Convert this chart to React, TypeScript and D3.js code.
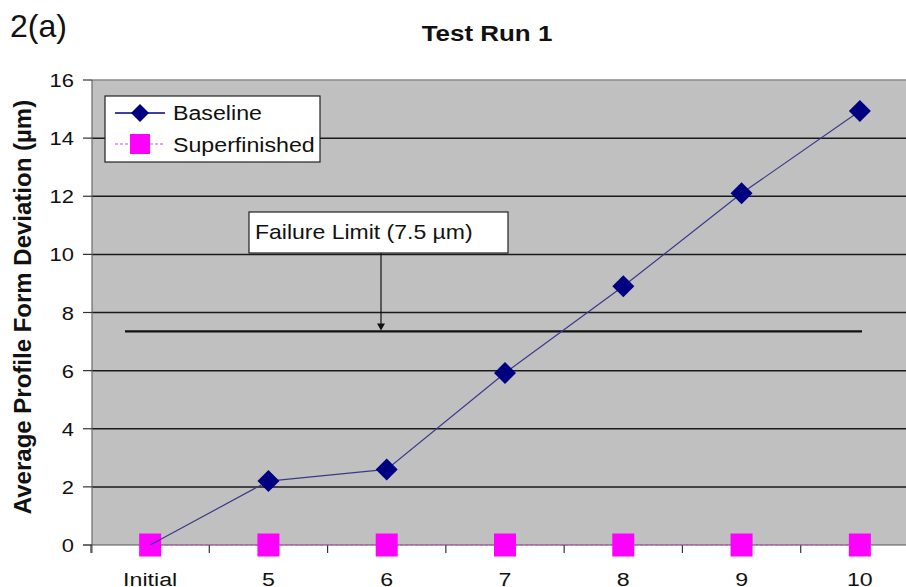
import React from "react";
import * as d3 from "d3";

const categories = ["Initial", "5", "6", "7", "8", "9", "10"];
const baseline = [0, 2.2, 2.6, 5.92, 8.9, 12.1, 14.93];
const superfinished = [0, 0, 0, 0, 0, 0, 0];
const yTicks = [0, 2, 4, 6, 8, 10, 12, 14, 16];
const failureValue = 7.35;
const failureLabel = "Failure Limit (7.5 µm)";
const seriesNames = ["Baseline", "Superfinished"];

const W = 906;
const H = 587;
const FONT = "'Liberation Sans', Arial, sans-serif";
const SX = 1.2;

function T(props: {
  x: number;
  y: number;
  size: number;
  anchor?: string;
  bold?: boolean;
  sx?: number;
  children: React.ReactNode;
}) {
  const { x, y, size, anchor = "start", bold = false, sx = SX, children } = props;
  return (
    <text
      transform={`translate(${x},${y}) scale(${sx},1)`}
      fontSize={size}
      fontWeight={bold ? "bold" : "normal"}
      textAnchor={anchor}
      fill="#111"
    >
      {children}
    </text>
  );
}

export default function App() {
  const x = d3.scaleBand<string>().domain(categories).range([91, 919]).padding(0);
  const bw = x.bandwidth();
  const cx = (c: string) => (x(c) as number) + bw / 2;
  const y = d3.scaleLinear().domain([0, 16]).range([545, 80]);

  const line = d3
    .line<number>()
    .x((_, i) => cx(categories[i]))
    .y((d) => y(d));

  const plotL = 92;
  const plotR = W;
  const diamond = (px: number, py: number, r: number) =>
    `M${px},${py - r}L${px + r},${py}L${px},${py + r}L${px - r},${py}Z`;

  const fy = y(failureValue);

  return (
    <svg
      width={W}
      height={H}
      style={{ position: "absolute", left: 0, top: 0, display: "block", background: "#fff" }}
      fontFamily={FONT}
    >
      <rect x={0} y={0} width={W} height={H} fill="#fff" />
      {/* panel label */}
      <T x={10} y={37} size={32} sx={1}>2(a)</T>
      {/* title */}
      <T x={487} y={41} size={22} bold anchor="middle" sx={1.18}>
        Test Run 1
      </T>
      {/* plot area */}
      <rect x={plotL} y={y(16)} width={plotR - plotL} height={y(0) - y(16)} fill="#c0c0c0" />
      <line x1={plotL} x2={plotR} y1={y(16)} y2={y(16)} stroke="#8a8a8a" strokeWidth={1.5} />
      {yTicks
        .filter((t) => t > 0 && t < 16)
        .map((t) => (
          <line key={"g" + t} x1={plotL} x2={plotR} y1={y(t)} y2={y(t)} stroke="#1a1a1a" strokeWidth={1.5} />
        ))}
      {/* y axis */}
      <line x1={plotL} x2={plotL} y1={y(16)} y2={y(0) + 8} stroke="#6a6a6a" strokeWidth={1.2} />
      {yTicks.map((t) => (
        <g key={"yt" + t}>
          <line x1={83} x2={plotL} y1={y(t)} y2={y(t)} stroke="#333" strokeWidth={1.2} />
          <T x={74} y={y(t) + 7} size={18} anchor="end" sx={1.22}>
            {t}
          </T>
        </g>
      ))}
      {/* x axis */}
      <line x1={83} x2={plotR} y1={y(0)} y2={y(0)} stroke="#555" strokeWidth={1.2} />
      {categories.map((c) => (
        <line key={"xt" + c} x1={x(c) as number} x2={x(c) as number} y1={y(0)} y2={y(0) + 8} stroke="#333" strokeWidth={1.2} />
      ))}
      {categories.map((c) => (
        <T key={"xl" + c} x={cx(c)} y={586} size={19} anchor="middle" sx={1.22}>
          {c}
        </T>
      ))}
      {/* y axis title */}
      <text
        transform={`translate(31,307) rotate(-90)`}
        fontSize={24}
        fontWeight="bold"
        textAnchor="middle"
        fill="#111"
      >
        Average Profile Form Deviation (µm)
      </text>
      {/* failure limit */}
      <line x1={125} x2={862} y1={fy} y2={fy} stroke="#111" strokeWidth={2.2} />
      <line x1={381} x2={381} y1={253} y2={fy - 6} stroke="#111" strokeWidth={1.2} />
      <path d={`M377,${fy - 8}L385,${fy - 8}L381,${fy - 1}Z`} fill="#111" />
      <rect x={249} y={212} width={259} height={41} fill="#fff" stroke="#222" strokeWidth={1.2} />
      <T x={255} y={239} size={20} sx={1.15}>
        {failureLabel}
      </T>
      {/* superfinished series */}
      <path d={line(superfinished) || ""} fill="none" stroke="#e040e0" strokeWidth={1} strokeDasharray="3,2" />
      {superfinished.map((v, i) => (
        <rect key={"s" + i} x={cx(categories[i]) - 11} y={y(v) - 11.5} width={22} height={23} fill="#ff00ff" />
      ))}
      {/* baseline series */}
      <path d={line(baseline) || ""} fill="none" stroke="#3a3a8a" strokeWidth={1.2} />
      {baseline.map((v, i) =>
        i === 0 ? null : <path key={"b" + i} d={diamond(cx(categories[i]), y(v), 11)} fill="#000080" />
      )}
      {/* legend */}
      <rect x={105} y={96} width={215} height={66} fill="#fff" stroke="#222" strokeWidth={1.2} />
      <line x1={115} x2={165} y1={113} y2={113} stroke="#000080" strokeWidth={1.5} />
      <path d={diamond(140, 113, 9)} fill="#000080" />
      <T x={173} y={120} size={20} sx={1.16}>
        {seriesNames[0]}
      </T>
      <line x1={115} x2={165} y1={144} y2={144} stroke="#e040e0" strokeWidth={1.2} strokeDasharray="3,2" />
      <rect x={130} y={134} width={20} height={20} fill="#ff00ff" />
      <T x={173} y={152} size={20} sx={1.16}>
        {seriesNames[1]}
      </T>
    </svg>
  );
}
